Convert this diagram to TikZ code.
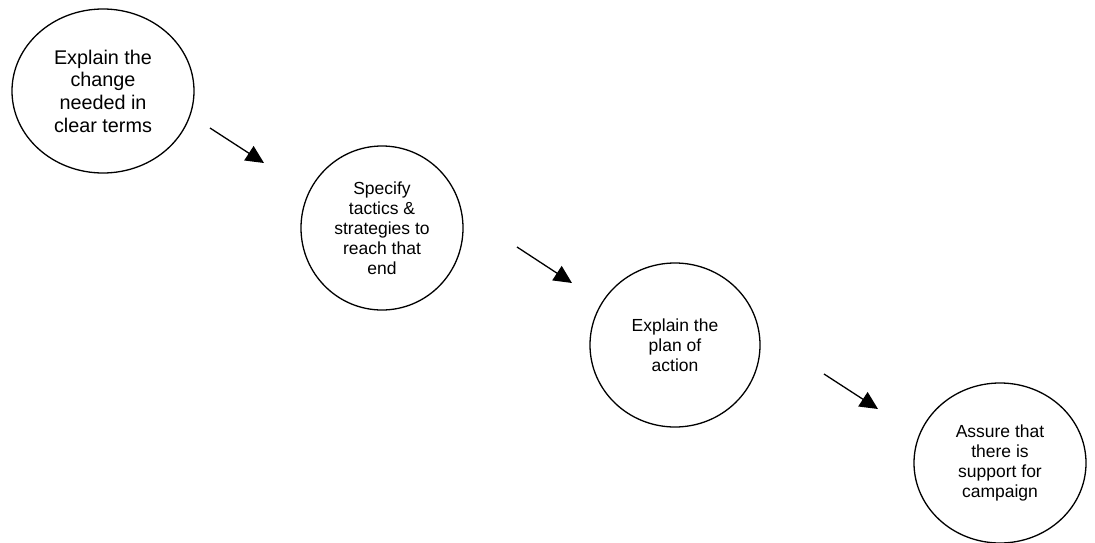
\documentclass[tikz,border=0pt]{standalone}
\usepackage{fontspec}
\setmainfont{Liberation Sans}
\usetikzlibrary{shapes.geometric,arrows.meta}
\begin{document}
\begin{tikzpicture}[x=1pt,y=-1pt,
  bubble/.style={ellipse,draw=black,line width=1.3pt,minimum width=180pt,minimum height=164pt,inner sep=0pt,align=center,font=\fontsize{17.5}{20}\selectfont},
  flow/.style={line width=1.3pt,-{Triangle[length=18pt,width=17pt]}}]
\useasboundingbox (0,0) rectangle (1095,543);
\node[bubble,font=\fontsize{19.8}{22.7}\selectfont,minimum width=182pt] (e1) at (103,91) {Explain the\\change\\needed in\\clear terms};
\node[bubble,minimum width=162pt] (e2) at (382,228) {Specify\\tactics \&\\strategies to\\reach that\\end};
\node[bubble,minimum width=170pt] (e3) at (675,345) {Explain the\\plan of\\action};
\node[bubble,minimum height=160pt,minimum width=172pt] (e4) at (1000,463) {Assure that\\there is\\support for\\campaign};
\coordinate (a1s) at (210,128);
\coordinate (a1e) at (264,163);
\coordinate (a2s) at (517,247);
\coordinate (a2e) at (572,283);
\coordinate (a3s) at (824,374);
\coordinate (a3e) at (878,409);
\draw[flow] (a1s) -- (a1e);
\draw[flow] (a2s) -- (a2e);
\draw[flow] (a3s) -- (a3e);
\end{tikzpicture}
\end{document}
